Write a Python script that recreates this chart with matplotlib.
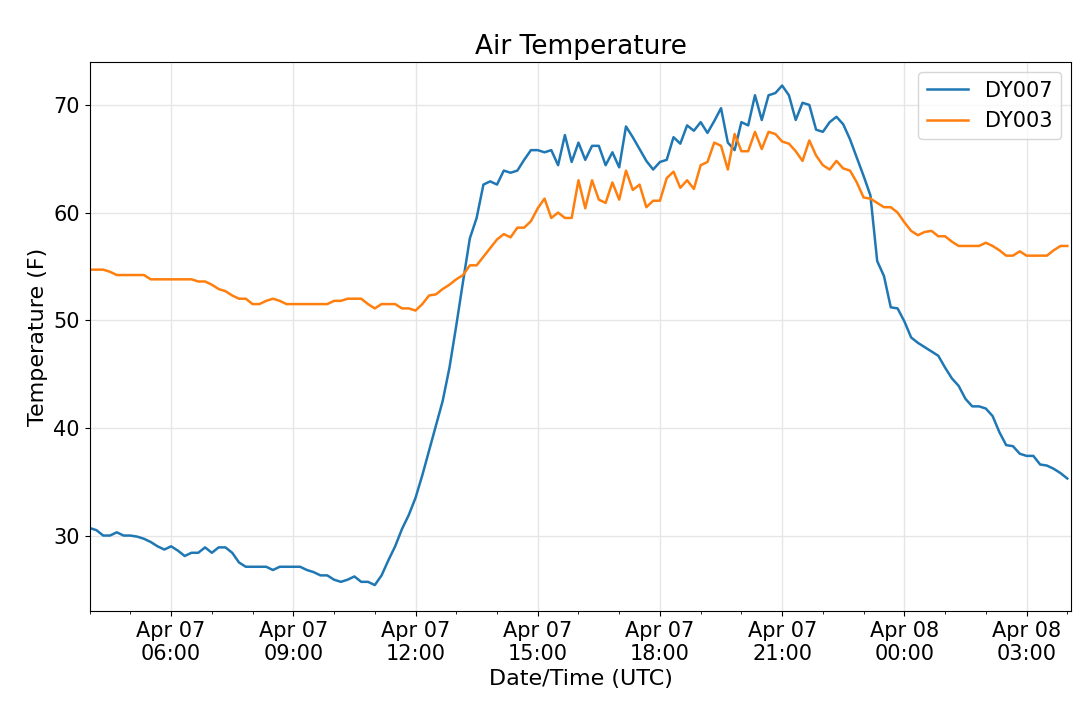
import matplotlib
matplotlib.use('Agg')
import matplotlib.pyplot as plt
import matplotlib.dates as mdates
import numpy as np
import pandas as pd

# 10-minute readings, Apr 07 04:00 UTC -> Apr 08 04:00 UTC
dy007 = [
    30.7, 30.5, 30.0, 30.0, 30.3, 30.0,
    30.0, 29.9, 29.7, 29.4, 29.0, 28.7,
    29.0, 28.6, 28.1, 28.4, 28.4, 28.9,
    28.4, 28.9, 28.9, 28.4, 27.5, 27.1,
    27.1, 27.1, 27.1, 26.8, 27.1, 27.1,
    27.1, 27.1, 26.8, 26.6, 26.3, 26.3,
    25.9, 25.7, 25.9, 26.2, 25.7, 25.7,
    25.4, 26.3, 27.7, 29.0, 30.6, 31.9,
    33.5, 35.6, 37.9, 40.2, 42.5, 45.6,
    49.5, 53.6, 57.6, 59.5, 62.6, 62.9,
    62.6, 63.9, 63.7, 63.9, 64.9, 65.8,
    65.8, 65.6, 65.8, 64.4, 67.2, 64.7,
    66.5, 64.9, 66.2, 66.2, 64.4, 65.6,
    64.2, 68.0, 67.0, 65.9, 64.8, 64.0,
    64.7, 64.9, 67.0, 66.4, 68.1, 67.6,
    68.4, 67.4, 68.5, 69.7, 66.5, 65.8,
    68.4, 68.1, 70.9, 68.6, 70.9, 71.1,
    71.8, 70.9, 68.6, 70.2, 70.0, 67.7,
    67.5, 68.4, 68.9, 68.2, 66.8, 65.1,
    63.4, 61.6, 55.5, 54.1, 51.2, 51.1,
    49.9, 48.4, 47.9, 47.5, 47.1, 46.7,
    45.6, 44.6, 43.9, 42.7, 42.0, 42.0,
    41.8, 41.1, 39.6, 38.4, 38.3, 37.6,
    37.4, 37.4, 36.6, 36.5, 36.2, 35.8,
    35.3,
]
dy003 = [
    54.7, 54.7, 54.7, 54.5, 54.2, 54.2,
    54.2, 54.2, 54.2, 53.8, 53.8, 53.8,
    53.8, 53.8, 53.8, 53.8, 53.6, 53.6,
    53.3, 52.9, 52.7, 52.3, 52.0, 52.0,
    51.5, 51.5, 51.8, 52.0, 51.8, 51.5,
    51.5, 51.5, 51.5, 51.5, 51.5, 51.5,
    51.8, 51.8, 52.0, 52.0, 52.0, 51.5,
    51.1, 51.5, 51.5, 51.5, 51.1, 51.1,
    50.9, 51.5, 52.3, 52.4, 52.9, 53.3,
    53.8, 54.2, 55.1, 55.1, 55.9, 56.7,
    57.5, 58.0, 57.7, 58.6, 58.6, 59.2,
    60.4, 61.3, 59.5, 60.0, 59.5, 59.5,
    63.0, 60.4, 63.0, 61.2, 60.9, 62.8,
    61.2, 63.9, 62.1, 62.6, 60.5, 61.1,
    61.1, 63.2, 63.8, 62.3, 63.0, 62.2,
    64.4, 64.7, 66.5, 66.2, 64.0, 67.3,
    65.7, 65.7, 67.5, 65.9, 67.5, 67.3,
    66.6, 66.4, 65.7, 64.8, 66.7, 65.3,
    64.4, 64.0, 64.8, 64.1, 63.9, 62.8,
    61.4, 61.3, 60.9, 60.5, 60.5, 60.0,
    59.1, 58.3, 57.9, 58.2, 58.3, 57.8,
    57.8, 57.3, 56.9, 56.9, 56.9, 56.9,
    57.2, 56.9, 56.5, 56.0, 56.0, 56.4,
    56.0, 56.0, 56.0, 56.0, 56.5, 56.9,
    56.9,
]
times = pd.date_range('2019-04-07 04:00', periods=len(dy007), freq='10min')

fig, ax = plt.subplots(figsize=(10.8, 7.03), dpi=100)
fig.subplots_adjust(left=0.083, right=0.992, top=0.912, bottom=0.131)

ax.plot(times, dy007, color='#1f77b4', linewidth=1.8, label='DY007')
ax.plot(times, dy003, color='#ff7f0e', linewidth=1.8, label='DY003')

ax.set_xlim(pd.Timestamp('2019-04-07 04:00'), pd.Timestamp('2019-04-08 04:06'))
ax.set_ylim(23, 74)
ax.set_yticks([30, 40, 50, 60, 70])
ax.xaxis.set_major_locator(mdates.HourLocator(byhour=[0, 3, 6, 9, 12, 15, 18, 21]))
ax.xaxis.set_minor_locator(mdates.HourLocator())
ax.xaxis.set_major_formatter(mdates.DateFormatter('%b %d\n%H:%M'))
ax.grid(True, which='major', color='#e6e6e6', linewidth=1)
ax.tick_params(labelsize=15)

ax.set_title('Air Temperature', fontsize=19)
ax.set_xlabel('Date/Time (UTC)', fontsize=16)
ax.set_ylabel('Temperature (F)', fontsize=16)
ax.legend(loc='upper right', fontsize=15)

fig.savefig('out.png')
